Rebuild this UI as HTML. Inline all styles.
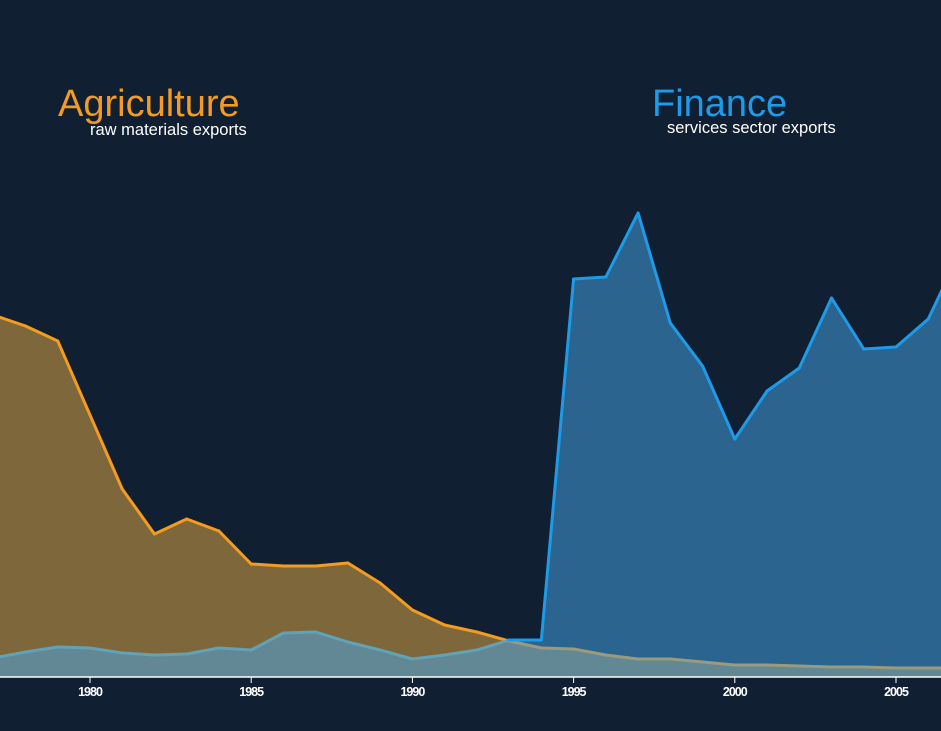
<!DOCTYPE html>
<html><head><meta charset="utf-8"><style>
html,body{margin:0;padding:0;background:#111f33;width:941px;height:731px;overflow:hidden}
svg{display:block}
text{font-family:"Liberation Sans",sans-serif}
</style></head><body>
<svg id="chart" width="941" height="731">
<rect width="941" height="731" fill="#111f33"/>
<g id="plot"></g>
<g id="xaxis"></g>
<text x="58" y="116" font-size="38" fill="#f39c1f" letter-spacing="0">Agriculture</text>
<text x="90" y="135" font-size="16.5" fill="#ffffff">raw materials exports</text>
<text x="652" y="116" font-size="38" fill="#1e9be8" letter-spacing="0">Finance</text>
<text x="667" y="133" font-size="16.5" fill="#ffffff">services sector exports</text>
</svg>
<script>
const years=[1977,1978,1979,1980,1981,1982,1983,1984,1985,1986,1987,1988,1989,1990,1991,1992,1993,1994,1995,1996,1997,1998,1999,2000,2001,2002,2003,2004,2005,2006,2007];
const agriculture=[362,351,336,262,188,143,158,146,113,111,111,114,94,67,52,45,36,29,28,22,18,18,15,12,12,11,10,10,9,9,9];
const finance=[19,25,30,29,24,22,23,29,27,44,45,35,27,18,22,27,37,37,398,400,464,354,311,238,286,309,379,328,330,358,426];
const tickYears=[1980,1985,1990,1995,2000,2005];
const NS="http://www.w3.org/2000/svg";
const x=y=>90+(y-1980)*32.24;
const yv=v=>677-v;
const plot=document.getElementById('plot');
const xa=document.getElementById('xaxis');
function mk(tag,attrs,parent){const e=document.createElementNS(NS,tag);for(const k in attrs)e.setAttribute(k,attrs[k]);parent.appendChild(e);return e;}
function areaPath(vals){let d='M'+x(years[0])+','+yv(0);years.forEach((yr,i)=>d+=' L'+x(yr)+','+yv(vals[i]));d+=' L'+x(years[years.length-1])+','+yv(0)+'Z';return d;}
const aA=mk('path',{d:areaPath(agriculture),fill:'#7f673c'},plot);


const fA=mk('path',{d:areaPath(finance),fill:'rgba(68,170,236,0.5)'},plot);


function segs(vals,other,colTop,colLow,name){
  for(let i=0;i<years.length-1;i++){
    const top=(vals[i]+vals[i+1])>=(other[i]+other[i+1]);
    const s=mk('line',{x1:x(years[i]),y1:yv(vals[i]),x2:x(years[i+1]),y2:yv(vals[i+1]),stroke:top?colTop:colLow,'stroke-width':3,'stroke-linecap':'round'},plot);
    
    
  }
}
segs(agriculture,finance,'#f39c1f','#9a9a7c','agriculture-line');
segs(finance,agriculture,'#1e9be8','#62a2b6','finance-line');
const ax=mk('line',{x1:0,y1:677,x2:941,y2:677,stroke:'#ffffff','stroke-width':1.5},xa);


tickYears.forEach(t=>{
  const tk=mk('line',{x1:x(t),y1:677,x2:x(t),y2:683,stroke:'#ffffff','stroke-width':1},xa);
  
  
  const lb=mk('text',{x:x(t),y:696,'text-anchor':'middle','font-size':12.5,'font-weight':'bold',fill:'#ffffff','letter-spacing':'-1'},xa);
  lb.textContent=t;
  
  
});
</script>
</body></html>
